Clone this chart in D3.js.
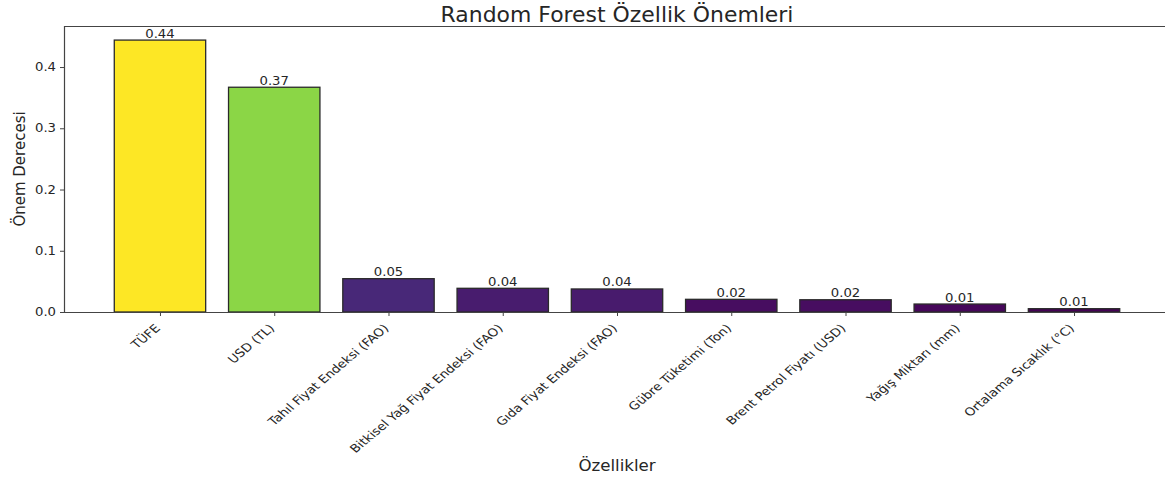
<!DOCTYPE html>
<html><head><meta charset="utf-8">
<script src="https://cdn.jsdelivr.net/npm/d3@7"></script>
<style>body{margin:0;background:#fff}svg{display:block;font-family:"DejaVu Sans",sans-serif}</style>
</head><body><svg id="c" width="1165" height="477"></svg>
<script>
const categories = ["TÜFE","USD (TL)","Tahıl Fiyat Endeksi (FAO)","Bitkisel Yağ Fiyat Endeksi (FAO)","Gıda Fiyat Endeksi (FAO)","Gübre Tüketimi (Ton)","Brent Petrol Fiyatı (USD)","Yağış Miktarı (mm)","Ortalama Sıcaklık (°C)"];
const importances = [0.444,0.367,0.0544,0.0387,0.0376,0.0207,0.0200,0.0130,0.0054];
const yTicks = [0.0,0.1,0.2,0.3,0.4];
const title = "Random Forest Özellik Önemleri";
const xTitle = "Özellikler";
const yTitle = "Önem Derecesi";

const svg = d3.select("#c");
const L=64, R=1170, T=26, B=312;
const n = categories.length;
const x = d3.scaleLinear().domain([-0.84, n-1+0.84]).range([L,R]);
const y = d3.scaleLinear().domain([0, 0.467]).range([B,T]);
const mn = d3.min(importances), mx = d3.max(importances);
const color = v => d3.interpolateViridis((v-mn)/(mx-mn));
const bw = x(0.4)-x(-0.4);
const ink = "#262626", spine = "#444";

svg.selectAll("rect.bar").data(importances).join("rect").attr("class","bar")
  .attr("x",(d,i)=>x(i)-bw/2).attr("width",bw)
  .attr("y",d=>y(d)).attr("height",d=>y(0)-y(d))
  .attr("fill",d=>color(d)).attr("stroke","#2a2a2a").attr("stroke-width",1.3);

svg.selectAll("text.val").data(importances).join("text").attr("class","val")
  .attr("transform",(d,i)=>`translate(${x(i)},${y(d)-2.5}) scale(1.15,1)`)
  .attr("text-anchor","middle")
  .attr("font-size",11.5).attr("fill",ink).text(d=>d.toFixed(2));

// spines
svg.append("line").attr("x1",L).attr("x2",R).attr("y1",T+0.5).attr("y2",T+0.5).attr("stroke",spine).attr("stroke-width",1.2);
svg.append("line").attr("x1",L+0.5).attr("x2",L+0.5).attr("y1",T).attr("y2",B).attr("stroke",spine).attr("stroke-width",1.2);

const yAxis = d3.axisLeft(y).tickValues(yTicks).tickFormat("").tickSize(4);
const gy = svg.append("g").attr("transform",`translate(${L},0)`).call(yAxis);
gy.select(".domain").remove();
gy.selectAll("line").attr("stroke",spine);
svg.selectAll("text.yt").data(yTicks).join("text").attr("class","yt")
  .attr("transform",d=>`translate(${L-8},${y(d)+4}) scale(1.15,1)`)
  .attr("text-anchor","end").attr("font-size",11.5).attr("fill",ink).text(d3.format(".1f"));

const xAxis = d3.axisBottom(x).tickValues(d3.range(n)).tickFormat("").tickSize(4);
const gx = svg.append("g").attr("transform",`translate(0,${B})`).call(xAxis);
gx.select(".domain").attr("stroke",spine).attr("stroke-width",1.2).attr("d",`M${L},0.5H${R}`);
gx.selectAll("line").attr("stroke",spine);

svg.selectAll("text.xl").data(categories).join("text").attr("class","xl")
  .attr("transform",(d,i)=>`translate(${x(i)+1},${B+17}) scale(1.19,1) rotate(-45)`)
  .attr("text-anchor","end").attr("font-size",11.3).attr("fill",ink).text(d=>d);

svg.append("text").attr("transform",`translate(${(L+R)/2},22) scale(1.07,1)`).attr("text-anchor","middle")
  .attr("font-size",20.5).attr("fill",ink).text(title);
svg.append("text").attr("transform",`translate(${(L+R)/2},471) scale(1.11,1)`).attr("text-anchor","middle")
  .attr("font-size",15).attr("fill",ink).text(xTitle);
svg.append("text").attr("transform",`translate(25,${(T+B)/2}) rotate(-90)`).attr("text-anchor","middle")
  .attr("font-size",15).attr("fill",ink).text(yTitle);
</script></body></html>
